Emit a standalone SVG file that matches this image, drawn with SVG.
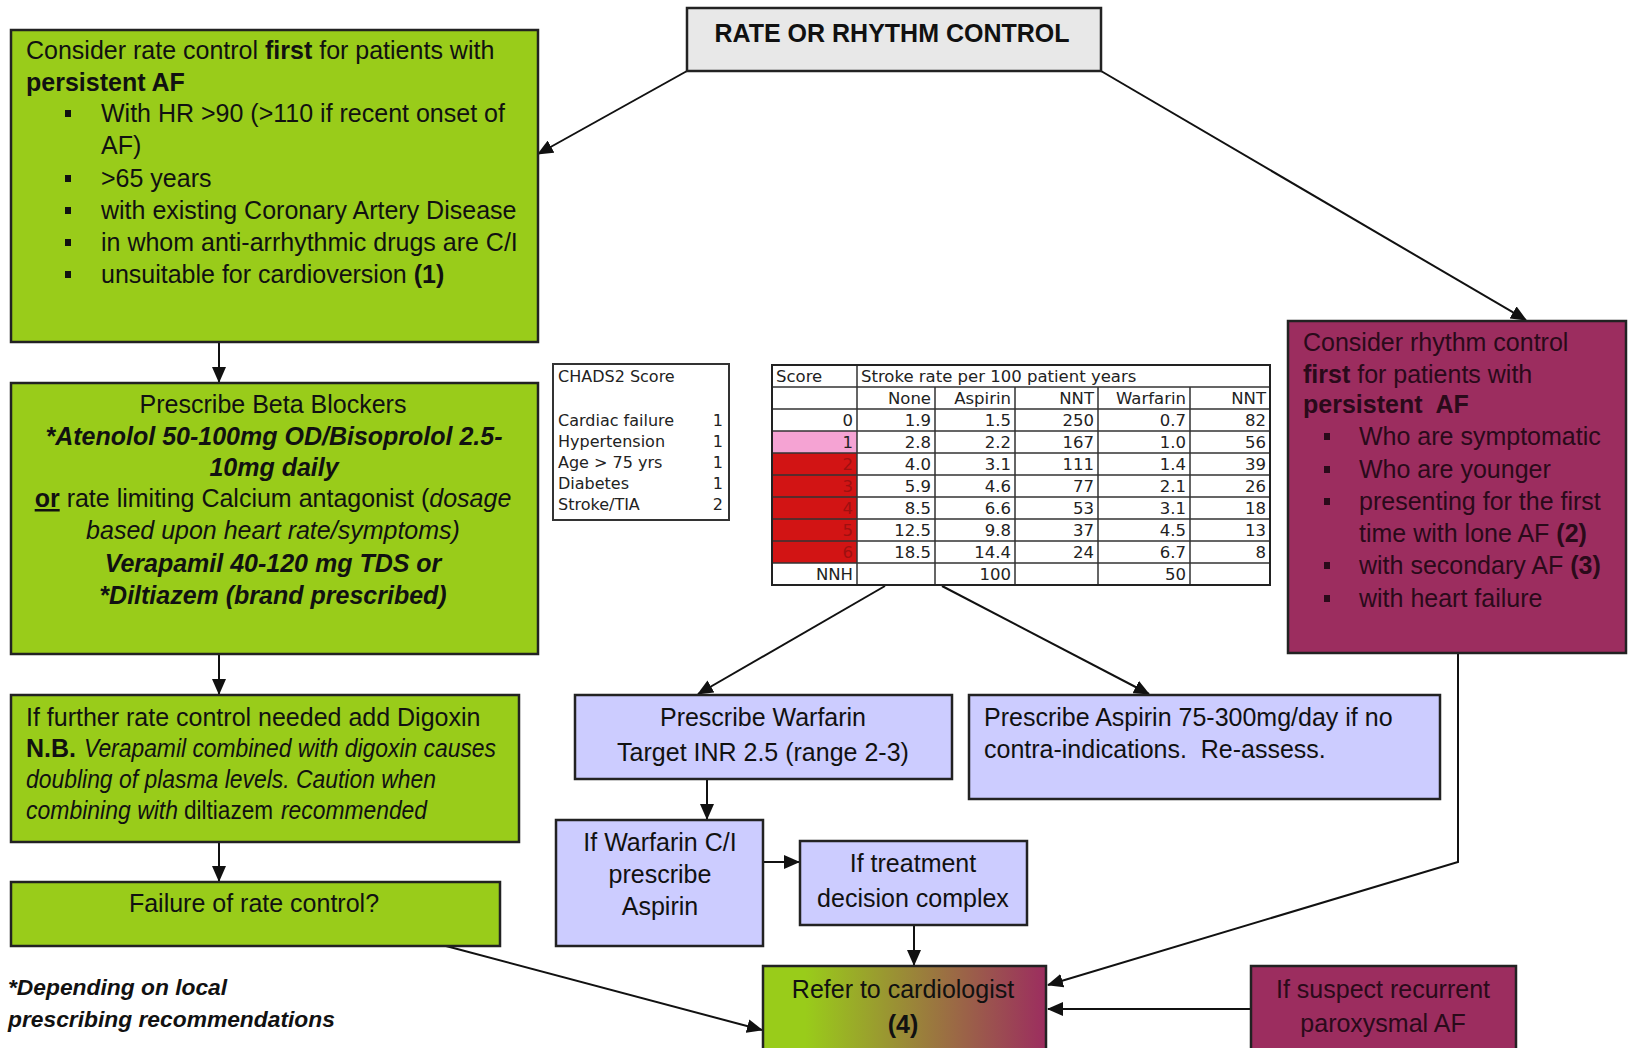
<svg xmlns="http://www.w3.org/2000/svg" width="1628" height="1048" viewBox="0 0 1628 1048">
<style>
.t{font-family:"Liberation Sans",Arial,sans-serif;font-size:25px;fill:#111}
.m{fill:#2a0a1a}
.c{text-anchor:middle}
.b{font-weight:bold}
.i{font-style:italic}
.u{text-decoration:underline}
.tb{font-family:"DejaVu Sans",Verdana,sans-serif;font-size:16.5px;fill:#222}
.r{text-anchor:end}
.box{stroke:#222;stroke-width:2.5}
.green{fill:#99cc1a}
.mag{fill:#9c2d5f}
.lil{fill:#ccccff}
.grey{fill:#e8e8e8}
.grid{stroke:#333;stroke-width:1.5;fill:none}
.conn path{stroke:#111;stroke-width:2;fill:none;marker-end:url(#ah)}
.bul{fill:#111}
</style>
<defs>
<marker id="ah" markerUnits="userSpaceOnUse" markerWidth="16" markerHeight="14" refX="15" refY="7" orient="auto">
<path d="M0,0 L16,7 L0,14 z" fill="#111"/>
</marker>
<linearGradient id="gm" x1="0" y1="0" x2="1" y2="0">
<stop offset="0" stop-color="#99cc1a"/>
<stop offset="0.15" stop-color="#99cc1a"/>
<stop offset="1" stop-color="#9c2d5f"/>
</linearGradient>
</defs>
<rect width="1628" height="1048" fill="#fff"/>

<g id="connectors" class="conn">
<path d="M687,71 L538,154"/>
<path d="M1101,71 L1526,320"/>
<path d="M219,342 L219,382"/>
<path d="M219,654 L219,694"/>
<path d="M219,842 L219,881"/>
<path d="M446,946 L762,1030"/>
<path d="M885,586 L698,694"/>
<path d="M942,586 L1149,694"/>
<path d="M707,779 L707,819"/>
<path d="M763,862 L799,862"/>
<path d="M914,925 L914,965"/>
<path d="M1458,653 L1458,862 L1048,985"/>
<path d="M1251,1009 L1048,1009"/>
</g>

<g id="title">
<rect class="box grey" x="687" y="8" width="414" height="63"/>
<text class="t b c" x="892" y="42">RATE OR RHYTHM CONTROL</text>
</g>

<g id="rate-control">
<rect class="box green" x="11" y="30" width="527" height="312"/>
<text class="t" x="26" y="59">Consider rate control <tspan class="b">first</tspan> for patients with</text>
<text class="t b" x="26" y="91">persistent AF</text>
<rect class="bul" x="65" y="110" width="6" height="7"/>
<text class="t" x="101" y="122">With HR &gt;90 (&gt;110 if recent onset of</text>
<text class="t" x="101" y="154">AF)</text>
<rect class="bul" x="65" y="175" width="6" height="7"/>
<text class="t" x="101" y="187">&gt;65 years</text>
<rect class="bul" x="65" y="207" width="6" height="7"/>
<text class="t" x="101" y="219">with existing Coronary Artery Disease</text>
<rect class="bul" x="65" y="239" width="6" height="7"/>
<text class="t" x="101" y="251">in whom anti-arrhythmic drugs are C/I</text>
<rect class="bul" x="65" y="271" width="6" height="7"/>
<text class="t" x="101" y="283">unsuitable for cardioversion <tspan class="b">(1)</tspan></text>
</g>

<g id="beta-blockers">
<rect class="box green" x="11" y="383" width="527" height="271"/>
<text class="t c" x="273" y="413">Prescribe Beta Blockers</text>
<text class="t c b i" x="274" y="445">*Atenolol 50-100mg OD/Bisoprolol 2.5-</text>
<text class="t c b i" x="274" y="476">10mg daily</text>
<text class="t c" x="273" y="507"><tspan class="b u">or</tspan> rate limiting Calcium antagonist (<tspan class="i">dosage</tspan></text>
<text class="t c i" x="273" y="539">based upon heart rate/symptoms)</text>
<text class="t c b i" x="273" y="572">Verapamil 40-120 mg TDS or</text>
<text class="t c b i" x="273" y="604">*Diltiazem (brand prescribed)</text>
</g>

<g id="digoxin">
<rect class="box green" x="11" y="695" width="508" height="147"/>
<text class="t" x="26" y="726">If further rate control needed add Digoxin</text>
<text class="t b" x="26" y="757">N.B.</text>
<text class="t i" x="84" y="757" textLength="412" lengthAdjust="spacingAndGlyphs">Verapamil combined with digoxin causes</text>
<text class="t i" x="26" y="788" textLength="410" lengthAdjust="spacingAndGlyphs">doubling of plasma levels. Caution when</text>
<text class="t i" x="26" y="819" textLength="152" lengthAdjust="spacingAndGlyphs">combining with</text>
<text class="t" x="184" y="819" textLength="89" lengthAdjust="spacingAndGlyphs">diltiazem</text>
<text class="t i" x="281" y="819" textLength="146" lengthAdjust="spacingAndGlyphs">recommended</text>
</g>

<g id="failure">
<rect class="box green" x="11" y="882" width="489" height="64"/>
<text class="t c" x="254" y="912">Failure of rate control?</text>
</g>

<g id="footnote">
<text class="t b i" x="8" y="995" style="font-size:22.8px">*Depending on local</text>
<text class="t b i" x="8" y="1027" style="font-size:22.8px">prescribing recommendations</text>
</g>

<g id="chads">
<rect x="553" y="364" width="176" height="156" fill="#fff" stroke="#333" stroke-width="2"/>
<text class="tb" x="558" y="382" style="font-size:16px">CHADS2 Score</text>
<text class="tb" x="558" y="426" style="font-size:16px">Cardiac failure</text>
<text class="tb" x="558" y="447" style="font-size:16px">Hypertension</text>
<text class="tb" x="558" y="468" style="font-size:16px">Age &gt; 75 yrs</text>
<text class="tb" x="558" y="489" style="font-size:16px">Diabetes</text>
<text class="tb" x="558" y="510" style="font-size:16px">Stroke/TIA</text>
<text class="tb r" x="723" y="426" style="font-size:16px">1</text>
<text class="tb r" x="723" y="447" style="font-size:16px">1</text>
<text class="tb r" x="723" y="468" style="font-size:16px">1</text>
<text class="tb r" x="723" y="489" style="font-size:16px">1</text>
<text class="tb r" x="723" y="510" style="font-size:16px">2</text>
</g>

<g id="stroke-table">
<rect x="772" y="365" width="498" height="220" fill="#fff"/>
<rect x="772" y="431" width="85" height="22" fill="#f5a3d3"/>
<rect x="772" y="453" width="85" height="110" fill="#d21414"/>
<path class="grid" d="M772,387 H1270 M772,409 H1270 M772,431 H1270 M772,453 H1270 M772,475 H1270 M772,497 H1270 M772,519 H1270 M772,541 H1270 M772,563 H1270"/>
<path class="grid" d="M857,365 V585 M935,387 V585 M1015,387 V585 M1098,387 V585 M1190,387 V585"/>
<rect x="772" y="365" width="498" height="220" fill="none" stroke="#222" stroke-width="2"/>
<text class="tb" x="776" y="382">Score</text>
<text class="tb" x="861" y="382">Stroke rate per 100 patient years</text>
<text class="tb r" x="931" y="404">None</text>
<text class="tb r" x="1011" y="404">Aspirin</text>
<text class="tb r" x="1094" y="404">NNT</text>
<text class="tb r" x="1186" y="404">Warfarin</text>
<text class="tb r" x="1266" y="404">NNT</text>
<text class="tb r" x="853" y="426">0</text><text class="tb r" x="931" y="426">1.9</text><text class="tb r" x="1011" y="426">1.5</text><text class="tb r" x="1094" y="426">250</text><text class="tb r" x="1186" y="426">0.7</text><text class="tb r" x="1266" y="426">82</text>
<text class="tb r" x="853" y="448">1</text><text class="tb r" x="931" y="448">2.8</text><text class="tb r" x="1011" y="448">2.2</text><text class="tb r" x="1094" y="448">167</text><text class="tb r" x="1186" y="448">1.0</text><text class="tb r" x="1266" y="448">56</text>
<text class="tb r" x="853" y="470" style="fill:#9e1010">2</text><text class="tb r" x="931" y="470">4.0</text><text class="tb r" x="1011" y="470">3.1</text><text class="tb r" x="1094" y="470">111</text><text class="tb r" x="1186" y="470">1.4</text><text class="tb r" x="1266" y="470">39</text>
<text class="tb r" x="853" y="492" style="fill:#9e1010">3</text><text class="tb r" x="931" y="492">5.9</text><text class="tb r" x="1011" y="492">4.6</text><text class="tb r" x="1094" y="492">77</text><text class="tb r" x="1186" y="492">2.1</text><text class="tb r" x="1266" y="492">26</text>
<text class="tb r" x="853" y="514" style="fill:#9e1010">4</text><text class="tb r" x="931" y="514">8.5</text><text class="tb r" x="1011" y="514">6.6</text><text class="tb r" x="1094" y="514">53</text><text class="tb r" x="1186" y="514">3.1</text><text class="tb r" x="1266" y="514">18</text>
<text class="tb r" x="853" y="536" style="fill:#9e1010">5</text><text class="tb r" x="931" y="536">12.5</text><text class="tb r" x="1011" y="536">9.8</text><text class="tb r" x="1094" y="536">37</text><text class="tb r" x="1186" y="536">4.5</text><text class="tb r" x="1266" y="536">13</text>
<text class="tb r" x="853" y="558" style="fill:#9e1010">6</text><text class="tb r" x="931" y="558">18.5</text><text class="tb r" x="1011" y="558">14.4</text><text class="tb r" x="1094" y="558">24</text><text class="tb r" x="1186" y="558">6.7</text><text class="tb r" x="1266" y="558">8</text>
<text class="tb r" x="853" y="580">NNH</text><text class="tb r" x="1011" y="580">100</text><text class="tb r" x="1186" y="580">50</text>
</g>

<g id="rhythm-control">
<rect class="box mag" x="1288" y="321" width="338" height="332"/>
<text class="t m" x="1303" y="351">Consider rhythm control</text>
<text class="t m" x="1303" y="383"><tspan class="b">first</tspan> for patients with</text>
<text class="t m b" x="1303" y="413" xml:space="preserve">persistent  AF</text>
<rect class="bul" x="1324" y="433" width="6" height="7" style="fill:#2a0a1a"/>
<text class="t m" x="1359" y="445">Who are symptomatic</text>
<rect class="bul" x="1324" y="466" width="6" height="7" style="fill:#2a0a1a"/>
<text class="t m" x="1359" y="478">Who are younger</text>
<rect class="bul" x="1324" y="498" width="6" height="7" style="fill:#2a0a1a"/>
<text class="t m" x="1359" y="510">presenting for the first</text>
<text class="t m" x="1359" y="542">time with lone AF <tspan class="b">(2)</tspan></text>
<rect class="bul" x="1324" y="562" width="6" height="7" style="fill:#2a0a1a"/>
<text class="t m" x="1359" y="574">with secondary AF <tspan class="b">(3)</tspan></text>
<rect class="bul" x="1324" y="595" width="6" height="7" style="fill:#2a0a1a"/>
<text class="t m" x="1359" y="607">with heart failure</text>
</g>

<g id="warfarin">
<rect class="box lil" x="575" y="695" width="377" height="84"/>
<text class="t c" x="763" y="726">Prescribe Warfarin</text>
<text class="t c" x="763" y="761">Target INR 2.5 (range 2-3)</text>
</g>

<g id="aspirin">
<rect class="box lil" x="969" y="695" width="471" height="104"/>
<text class="t" x="984" y="726">Prescribe Aspirin 75-300mg/day if no</text>
<text class="t" x="984" y="758" xml:space="preserve">contra-indications.  Re-assess.</text>
</g>

<g id="warfarin-ci">
<rect class="box lil" x="556" y="820" width="207" height="126"/>
<text class="t c" x="660" y="851">If Warfarin C/I</text>
<text class="t c" x="660" y="883">prescribe</text>
<text class="t c" x="660" y="915">Aspirin</text>
</g>

<g id="complex">
<rect class="box lil" x="800" y="841" width="227" height="84"/>
<text class="t c" x="913" y="872">If treatment</text>
<text class="t c" x="913" y="907">decision complex</text>
</g>

<g id="cardiologist">
<rect class="box" x="763" y="966" width="283" height="92" fill="url(#gm)"/>
<text class="t c" x="903" y="998">Refer to cardiologist</text>
<text class="t c b" x="903" y="1033">(4)</text>
</g>

<g id="paroxysmal">
<rect class="box mag" x="1251" y="966" width="265" height="92"/>
<text class="t c m" x="1383" y="998">If suspect recurrent</text>
<text class="t c m" x="1383" y="1032">paroxysmal AF</text>
</g>
</svg>
